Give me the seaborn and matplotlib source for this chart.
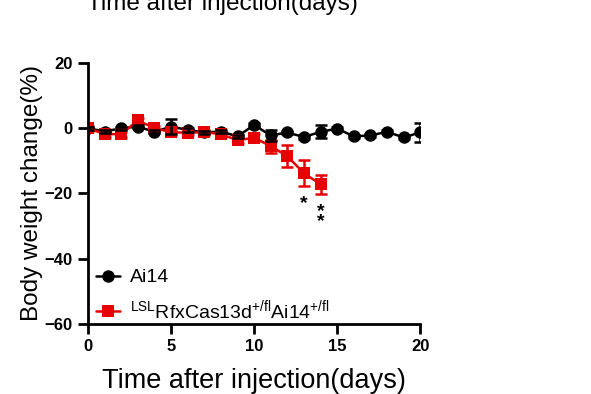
import numpy as np
import pandas as pd
import matplotlib
matplotlib.use("Agg")
import matplotlib.pyplot as plt
import seaborn as sns

# body weight change (%)
days_ai14 = list(range(0, 21))
ai14_mean = [0, -1, 0, 0.5, -1.1, 0.5, -0.5, -1.3, -1, -2.5, 1, -2.2,
             -1.3, -2.7, -1.1, -0.1, -2.5, -2.2, -1.1, -2.8, -1.3]
ai14_sem = [0.5, 0.5, 0.5, 0.5, 0.5, 2.2, 0.5, 0.5, 0.5, 0.5, 0.6, 1.8,
            0.5, 0.5, 2.0, 0.5, 0.5, 0.5, 0.5, 0.5, 2.8]

days_cas = list(range(0, 15))
cas_mean = [0, -1.8, -1.8, 2.4, 0, -1.2, -1.4, -1.2, -1.8, -3.7, -2.9,
            -5.5, -8.6, -13.8, -17.2]
cas_sem = [0.8, 0.8, 0.8, 0.8, 0.8, 0.8, 0.8, 0.8, 0.8, 0.8, 1.0,
           2.0, 3.4, 4.0, 3.0]

labels = ["Ai14", r"$^{LSL}$RfxCas13d$^{+/fl}$Ai14$^{+/fl}$"]
colors = ["black", "#e60000"]
markers = ["o", "s"]

# significance marks
sig_days = [13, 14]
sig_text = ["*", "*\n*"]

sns.set_style("ticks")
plt.rcParams["font.family"] = ["Liberation Sans", "DejaVu Sans"]
plt.rcParams["mathtext.default"] = "regular"
plt.rcParams["text.color"] = "black"
plt.rcParams["axes.labelcolor"] = "black"
plt.rcParams["xtick.color"] = "black"
plt.rcParams["ytick.color"] = "black"
plt.rcParams["axes.edgecolor"] = "black"

df_a = pd.DataFrame({"day": days_ai14, "change": ai14_mean, "group": labels[0]})
df_c = pd.DataFrame({"day": days_cas, "change": cas_mean, "group": labels[1]})
data = pd.concat([df_a, df_c], ignore_index=True)

fig = plt.figure(figsize=(5.91, 3.94), dpi=100)
ax = fig.add_axes([0.149, 0.178, 0.562, 0.662])

# error bars
ax.errorbar(days_ai14, ai14_mean, yerr=ai14_sem, fmt="none", ecolor=colors[0],
            elinewidth=1.8, capsize=4, capthick=1.8, zorder=3)
ax.errorbar(days_cas, cas_mean, yerr=cas_sem, fmt="none", ecolor=colors[1],
            elinewidth=1.8, capsize=4, capthick=1.8, zorder=2)

sns.lineplot(data=data, x="day", y="change", hue="group", style="group",
             palette=colors, markers=markers, dashes=False, linewidth=1.8,
             markersize=9, markeredgewidth=0, ax=ax, legend=False)
# black series on top
ax.get_lines()[0].set_zorder(4)

for d, t in zip(sig_days, sig_text):
    yv = cas_mean[days_cas.index(d)] - cas_sem[days_cas.index(d)]
    ax.text(d, yv - 2.6, t, ha="center", va="top", fontsize=14,
            fontweight="bold", linespacing=0.5)

# legend
handles = []
for lab, c, m in zip(labels, colors, markers):
    h, = ax.plot([], [], color=c, marker=m, markersize=9, linewidth=1.8,
                 markeredgewidth=0, label=lab)
    handles.append(h)
ax.legend(handles=handles, loc="lower left", bbox_to_anchor=(-0.03, -0.06),
          frameon=False, fontsize=14, handlelength=1.25, handletextpad=0.5,
          labelspacing=0.6)

ax.set_xlim(0, 20)
ax.set_ylim(-60, 20)
ax.set_xticks([0, 5, 10, 15, 20])
ax.set_yticks([-60, -40, -20, 0, 20])
ax.tick_params(axis="both", which="major", length=7, width=2, labelsize=12,
               direction="out", pad=4)
for lab in ax.get_xticklabels() + ax.get_yticklabels():
    lab.set_fontweight("bold")
for side in ["left", "bottom"]:
    ax.spines[side].set_linewidth(2)
sns.despine(ax=ax)
ax.set_xlabel("Time after injection(days)", fontsize=19.5, labelpad=10)
ax.set_ylabel("Body weight change(%)", fontsize=17.5, labelpad=1)

# leftover title from neighbouring panel, cut off at the top
fig.text(0.376, 0.975, "Time after injection(days)", ha="center",
         va="baseline", fontsize=17.5)

fig.savefig("out.png", dpi=100)
